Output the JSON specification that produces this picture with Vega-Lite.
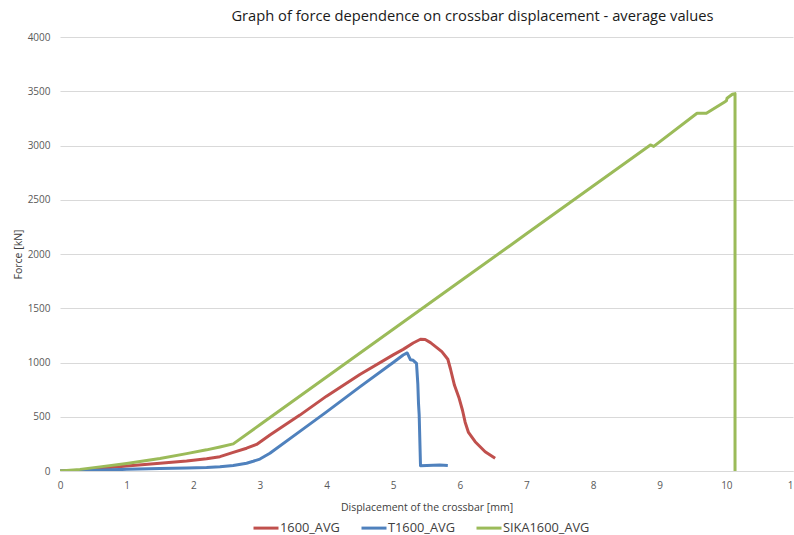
{
  "$schema": "https://vega.github.io/schema/vega-lite/v6.json",
  "width": 733,
  "height": 434,
  "autosize": {"type": "none"},
  "padding": {"left": 60, "top": 37, "right": 1, "bottom": 64},
  "background": "white",
  "config": {
    "font": "Open Sans",
    "view": {"stroke": null}
  },
  "title": {
    "text": "Graph of force dependence on crossbar displacement - average values",
    "fontSize": 14.7,
    "fontWeight": "normal",
    "color": "#1a1a1a",
    "anchor": "middle",
    "dx": 46,
    "offset": 8
  },
  "data": {
    "values": [
      {"s": "1600_AVG", "i": 0, "x": 0, "y": 0},
      {"s": "1600_AVG", "i": 1, "x": 0.3, "y": 8},
      {"s": "1600_AVG", "i": 2, "x": 0.6, "y": 22},
      {"s": "1600_AVG", "i": 3, "x": 1.0, "y": 46},
      {"s": "1600_AVG", "i": 4, "x": 1.5, "y": 72},
      {"s": "1600_AVG", "i": 5, "x": 1.9, "y": 92},
      {"s": "1600_AVG", "i": 6, "x": 2.2, "y": 112},
      {"s": "1600_AVG", "i": 7, "x": 2.4, "y": 132},
      {"s": "1600_AVG", "i": 8, "x": 2.6, "y": 172},
      {"s": "1600_AVG", "i": 9, "x": 2.8, "y": 210},
      {"s": "1600_AVG", "i": 10, "x": 2.95, "y": 245},
      {"s": "1600_AVG", "i": 11, "x": 3.15, "y": 332},
      {"s": "1600_AVG", "i": 12, "x": 3.6, "y": 515},
      {"s": "1600_AVG", "i": 13, "x": 4.0, "y": 690},
      {"s": "1600_AVG", "i": 14, "x": 4.5, "y": 890},
      {"s": "1600_AVG", "i": 15, "x": 5.0, "y": 1070},
      {"s": "1600_AVG", "i": 16, "x": 5.15, "y": 1121},
      {"s": "1600_AVG", "i": 17, "x": 5.3, "y": 1180},
      {"s": "1600_AVG", "i": 18, "x": 5.41, "y": 1214},
      {"s": "1600_AVG", "i": 19, "x": 5.48, "y": 1212},
      {"s": "1600_AVG", "i": 20, "x": 5.56, "y": 1183},
      {"s": "1600_AVG", "i": 21, "x": 5.65, "y": 1140},
      {"s": "1600_AVG", "i": 22, "x": 5.73, "y": 1100},
      {"s": "1600_AVG", "i": 23, "x": 5.82, "y": 1030},
      {"s": "1600_AVG", "i": 24, "x": 5.86, "y": 940},
      {"s": "1600_AVG", "i": 25, "x": 5.92, "y": 790},
      {"s": "1600_AVG", "i": 26, "x": 5.99, "y": 670},
      {"s": "1600_AVG", "i": 27, "x": 6.04, "y": 560},
      {"s": "1600_AVG", "i": 28, "x": 6.08, "y": 450},
      {"s": "1600_AVG", "i": 29, "x": 6.13, "y": 355},
      {"s": "1600_AVG", "i": 30, "x": 6.23, "y": 270},
      {"s": "1600_AVG", "i": 31, "x": 6.38, "y": 178},
      {"s": "1600_AVG", "i": 32, "x": 6.53, "y": 117},
      {"s": "T1600_AVG", "i": 0, "x": 0, "y": 0},
      {"s": "T1600_AVG", "i": 1, "x": 0.3, "y": 3},
      {"s": "T1600_AVG", "i": 2, "x": 1.0, "y": 15},
      {"s": "T1600_AVG", "i": 3, "x": 1.5, "y": 22},
      {"s": "T1600_AVG", "i": 4, "x": 1.9, "y": 28},
      {"s": "T1600_AVG", "i": 5, "x": 2.2, "y": 33},
      {"s": "T1600_AVG", "i": 6, "x": 2.4, "y": 40},
      {"s": "T1600_AVG", "i": 7, "x": 2.6, "y": 50},
      {"s": "T1600_AVG", "i": 8, "x": 2.8, "y": 72},
      {"s": "T1600_AVG", "i": 9, "x": 2.9, "y": 90},
      {"s": "T1600_AVG", "i": 10, "x": 3.0, "y": 110},
      {"s": "T1600_AVG", "i": 11, "x": 3.15, "y": 163},
      {"s": "T1600_AVG", "i": 12, "x": 3.6, "y": 365},
      {"s": "T1600_AVG", "i": 13, "x": 4.0, "y": 545},
      {"s": "T1600_AVG", "i": 14, "x": 4.5, "y": 775},
      {"s": "T1600_AVG", "i": 15, "x": 5.0, "y": 1000},
      {"s": "T1600_AVG", "i": 16, "x": 5.15, "y": 1069},
      {"s": "T1600_AVG", "i": 17, "x": 5.21, "y": 1088},
      {"s": "T1600_AVG", "i": 18, "x": 5.26, "y": 1025},
      {"s": "T1600_AVG", "i": 19, "x": 5.3, "y": 1020},
      {"s": "T1600_AVG", "i": 20, "x": 5.35, "y": 992},
      {"s": "T1600_AVG", "i": 21, "x": 5.37, "y": 800},
      {"s": "T1600_AVG", "i": 22, "x": 5.38, "y": 624},
      {"s": "T1600_AVG", "i": 23, "x": 5.39, "y": 520},
      {"s": "T1600_AVG", "i": 24, "x": 5.41, "y": 49},
      {"s": "T1600_AVG", "i": 25, "x": 5.6, "y": 53},
      {"s": "T1600_AVG", "i": 26, "x": 5.7, "y": 55},
      {"s": "T1600_AVG", "i": 27, "x": 5.82, "y": 50},
      {"s": "SIKA1600_AVG", "i": 0, "x": 0, "y": 0},
      {"s": "SIKA1600_AVG", "i": 1, "x": 0.3, "y": 15},
      {"s": "SIKA1600_AVG", "i": 2, "x": 0.6, "y": 38},
      {"s": "SIKA1600_AVG", "i": 3, "x": 1.0, "y": 70},
      {"s": "SIKA1600_AVG", "i": 4, "x": 1.5, "y": 115},
      {"s": "SIKA1600_AVG", "i": 5, "x": 1.9, "y": 160},
      {"s": "SIKA1600_AVG", "i": 6, "x": 2.2, "y": 195},
      {"s": "SIKA1600_AVG", "i": 7, "x": 2.4, "y": 222},
      {"s": "SIKA1600_AVG", "i": 8, "x": 2.6, "y": 250},
      {"s": "SIKA1600_AVG", "i": 9, "x": 3.0, "y": 426},
      {"s": "SIKA1600_AVG", "i": 10, "x": 4.0, "y": 866},
      {"s": "SIKA1600_AVG", "i": 11, "x": 5.0, "y": 1306},
      {"s": "SIKA1600_AVG", "i": 12, "x": 6.0, "y": 1746},
      {"s": "SIKA1600_AVG", "i": 13, "x": 7.0, "y": 2186},
      {"s": "SIKA1600_AVG", "i": 14, "x": 8.0, "y": 2626},
      {"s": "SIKA1600_AVG", "i": 15, "x": 8.86, "y": 3005},
      {"s": "SIKA1600_AVG", "i": 16, "x": 8.91, "y": 2992},
      {"s": "SIKA1600_AVG", "i": 17, "x": 9.56, "y": 3297},
      {"s": "SIKA1600_AVG", "i": 18, "x": 9.7, "y": 3297},
      {"s": "SIKA1600_AVG", "i": 19, "x": 9.98, "y": 3404},
      {"s": "SIKA1600_AVG", "i": 20, "x": 10.0, "y": 3412},
      {"s": "SIKA1600_AVG", "i": 21, "x": 10.01, "y": 3435},
      {"s": "SIKA1600_AVG", "i": 22, "x": 10.09, "y": 3472},
      {"s": "SIKA1600_AVG", "i": 23, "x": 10.13, "y": 3478},
      {"s": "SIKA1600_AVG", "i": 24, "x": 10.13, "y": 0}
    ]
  },
  "mark": {"type": "line", "strokeWidth": 3, "strokeJoin": "round", "clip": true},
  "encoding": {
    "x": {
      "field": "x",
      "type": "quantitative",
      "scale": {"domain": [0, 11], "nice": false},
      "axis": {
        "values": [0, 1, 2, 3, 4, 5, 6, 7, 8, 9, 10, 11],
        "grid": false,
        "ticks": false,
        "domainColor": "#d9d9d9",
        "labelColor": "#595959",
        "labelFontSize": 10,
        "labelPadding": 9,
        "labelFlush": false,
        "labelBound": false,
        "labelOverlap": false,
        "title": "Displacement of the crossbar [mm]",
        "titleFontSize": 10.5,
        "titleFontWeight": "normal",
        "titleColor": "#404040",
        "titlePadding": 12
      }
    },
    "y": {
      "field": "y",
      "type": "quantitative",
      "scale": {"domain": [0, 4000], "nice": false},
      "axis": {
        "values": [0, 500, 1000, 1500, 2000, 2500, 3000, 3500, 4000],
        "format": "d",
        "grid": true,
        "gridColor": "#d9d9d9",
        "domain": false,
        "ticks": false,
        "labelColor": "#595959",
        "labelFontSize": 10,
        "labelPadding": 10,
        "title": "Force  [kN]",
        "titleFontSize": 10.5,
        "titleFontWeight": "normal",
        "titleColor": "#404040",
        "titlePadding": 4
      }
    },
    "color": {
      "field": "s",
      "type": "nominal",
      "scale": {
        "domain": ["1600_AVG", "T1600_AVG", "SIKA1600_AVG"],
        "range": ["#c0504d", "#4f81bd", "#9bbb59"]
      },
      "legend": {
        "orient": "none",
        "legendX": 192,
        "legendY": 477,
        "direction": "horizontal",
        "title": null,
        "symbolType": "stroke",
        "symbolStrokeWidth": 3,
        "symbolSize": 625,
        "labelFontSize": 12.8,
        "labelOffset": 0,
        "labelColor": "#404040",
        "columnPadding": 15
      }
    },
    "order": {"field": "i", "type": "quantitative"}
  }
}
